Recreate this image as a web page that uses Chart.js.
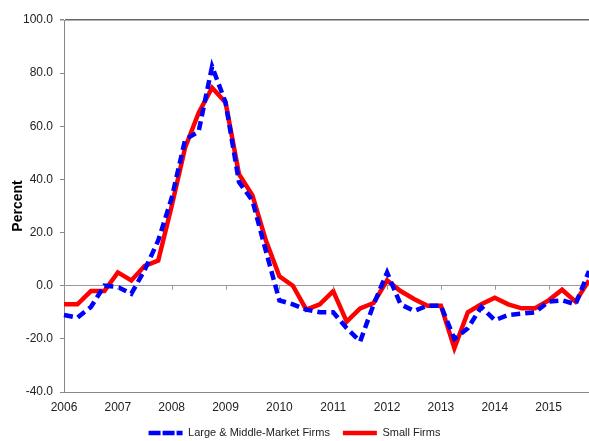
<!DOCTYPE html>
<html>
<head>
<meta charset="utf-8">
<script src="https://cdn.jsdelivr.net/npm/chart.js@4"></script>
<style>
  html, body { margin: 0; padding: 0; background: #fff; }
  #wrap { width: 589px; height: 441px; }
</style>
</head>
<body>
<div id="wrap"><canvas id="chart" width="589" height="441"></canvas></div>
<script>
// --- DATA ---
const years = [2006, 2007, 2008, 2009, 2010, 2011, 2012, 2013, 2014, 2015];
const quarters = ["Q1", "Q2", "Q3", "Q4"];
const yTicks = [-40, -20, 0, 20, 40, 60, 80, 100];

// quarterly percent, 2006 Q1 .. 2015 Q4
const largeFirms = [
  -11, -12, -8, 0,
  -0.5, -3, 6, 17,
  33, 55, 58, 82.5,
  69, 39, 32, 13,
  -5.5, -7, -9, -10,
  -10, -16, -21, -7,
  5, -7, -9.5, -7.5,
  -7.5, -20, -16, -8,
  -13, -11, -10.5, -10,
  -6, -5.5, -7, 5.5
];
const smallFirms = [
  -7, -7, -2, -2,
  5, 2, 7.5, 9.5,
  30, 52, 65, 74.5,
  69, 42, 34, 17,
  3.5, 0, -9, -7,
  -2, -13.5, -8.5, -6.5,
  2, -2, -5, -7.5,
  -7.5, -23.5, -10, -7,
  -4.5, -7, -8.5, -8.5,
  -5.5, -1.5, -6, 2
];

const labels = years.flatMap(y => quarters.map(q => y + " " + q));
const FONT = "'Liberation Sans', Arial, sans-serif";

// small tick marks hanging from the zero line at each year
const zeroTicks = {
  id: "zeroTicks",
  afterDatasetsDraw(chart) {
    const { ctx, scales: { x, y } } = chart;
    const y0 = y.getPixelForValue(0);
    ctx.save();
    ctx.strokeStyle = "#999";
    ctx.lineWidth = 1;
    labels.forEach((l, i) => {
      if (!l.endsWith("Q1")) return;
      const px = Math.round(x.getPixelForValue(i)) + 0.5;
      ctx.beginPath();
      ctx.moveTo(px, y0);
      ctx.lineTo(px, y0 + 4);
      ctx.stroke();
    });
    ctx.restore();
  }
};

new Chart(document.getElementById("chart"), {
  type: "line",
  data: {
    labels,
    datasets: [
      {
        label: "Large & Middle-Market Firms",
        data: largeFirms,
        borderColor: "#0000ff",
        backgroundColor: "#0000ff",
        borderWidth: 4.5,
        borderDash: [9, 5],
        pointRadius: 0,
        tension: 0
      },
      {
        label: "Small Firms",
        data: smallFirms,
        borderColor: "#ff0000",
        backgroundColor: "#ff0000",
        borderWidth: 4.5,
        pointRadius: 0,
        tension: 0
      }
    ]
  },
  options: {
    responsive: false,
    animation: false,
    layout: { padding: { top: 20, right: 0, bottom: -7.5, left: 0 } },
    plugins: {
      tooltip: { enabled: false },
      legend: {
        position: "bottom",
        labels: {
          font: { family: FONT, size: 11 },
          color: "#222",
          boxWidth: 34,
          boxHeight: 0,
          padding: 13
        }
      }
    },
    scales: {
      x: {
        type: "category",
        offset: false,
        afterFit: s => { s.height = 22.5; s.paddingRight = 0; },
        grid: { display: false },
        border: { display: true, color: "#888" },
        ticks: {
          autoSkip: false,
          maxRotation: 0,
          padding: 0,
          color: "#222",
          font: { family: FONT, size: 12 },
          callback: (v, i) => (labels[i].endsWith("Q1") ? labels[i].slice(0, 4) : "")
        }
      },
      y: {
        min: -40,
        max: 100,
        afterFit: s => { s.width = 64; },
        afterBuildTicks: s => { s.ticks = yTicks.map(v => ({ value: v })); },
        grid: {
          tickLength: 4,
          tickColor: "#888",
          color: c => (c.tick.value === 0 ? "#999" : c.tick.value === 100 ? "#666" : "transparent"),
          lineWidth: c => (c.tick.value === 100 ? 1.5 : 1)
        },
        border: { display: true, color: "#888" },
        ticks: {
          padding: 7,
          color: "#222",
          font: { family: FONT, size: 12 },
          callback: v => v.toFixed(1)
        },
        title: {
          display: true,
          text: "Percent",
          color: "#000",
          font: { family: FONT, size: 14, weight: "bold" },
          padding: { top: 10, bottom: 0 }
        }
      }
    }
  },
  plugins: [zeroTicks]
});
</script>
</body>
</html>
